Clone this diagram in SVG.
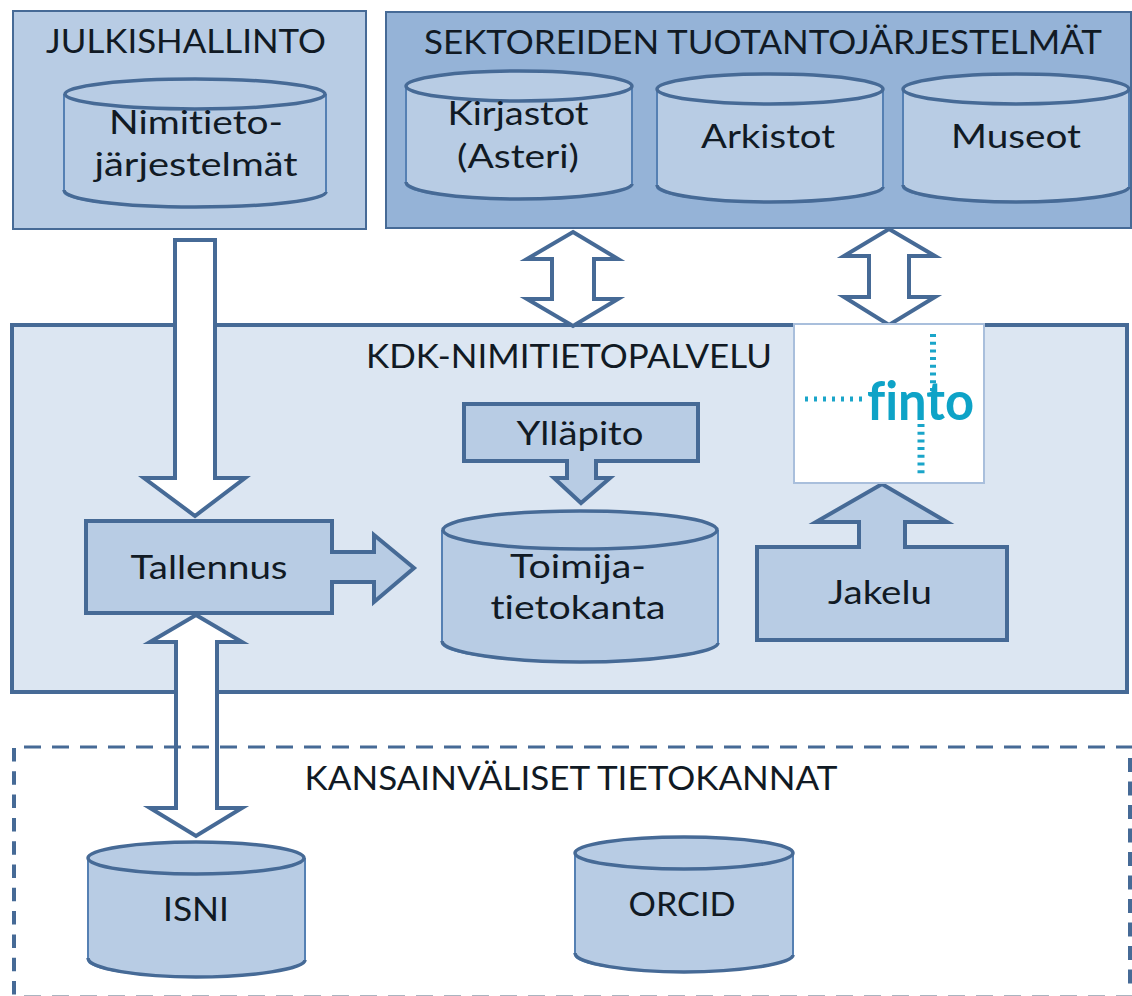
<svg xmlns="http://www.w3.org/2000/svg" width="1132" height="996" viewBox="0 0 1132 996">
<style>
.t{font-family:Lato,"Open Sans","Liberation Sans",sans-serif;font-size:33px;fill:#111a24;text-anchor:middle;font-variant-ligatures:none}
.o{stroke:#466a96;stroke-width:4;fill:#b8cce4;stroke-linejoin:miter;stroke-miterlimit:6}
.w{stroke:#466a96;stroke-width:4;fill:#fff;stroke-linejoin:miter;stroke-miterlimit:6}
.c{stroke:#5580b3;stroke-width:2;fill:#b8cce4}
.s{stroke:#466a96;stroke-width:3.5;fill:none}
.e{stroke:#466a96;stroke-width:3.5;fill:#b8cce4}
.d{stroke:#466a96;fill:none}
.l{stroke:#1aa5c9;fill:none}
</style>
<rect width="1132" height="996" fill="#fff"/>
<g id="kdk"><rect x="12" y="325" width="1115" height="367" fill="#dce6f2" stroke="#466a96" stroke-width="4"/>
<text class="t" x="569" y="368" textLength="406" lengthAdjust="spacingAndGlyphs">KDK-NIMITIETOPALVELU</text></g>
<g id="julkishallinto"><rect x="13" y="11" width="353" height="218" fill="#b8cce4" stroke="#466a96" stroke-width="2"/>
<text class="t" x="186" y="53" textLength="280" lengthAdjust="spacingAndGlyphs">JULKISHALLINTO</text>
<path class="c" d="M64 94V192C64 200 122 207 195 207S326 200 326 192V94"/><path class="s" d="M64 190C64 200 122 207 195 207S326 200 326 192"/><ellipse class="e" cx="195" cy="94" rx="130" ry="15"/>
<text class="t" x="196" y="134" textLength="174" lengthAdjust="spacingAndGlyphs">Nimitieto-</text><text class="t" x="196" y="176" textLength="203" lengthAdjust="spacingAndGlyphs">järjestelmät</text></g>
<g id="sektorit"><rect x="386" y="12" width="745" height="216" fill="#95b3d7" stroke="#466a96" stroke-width="2"/>
<text class="t" x="763" y="54" textLength="678" lengthAdjust="spacingAndGlyphs">SEKTOREIDEN TUOTANTOJÄRJESTELMÄT</text></g>
<g id="kirjastot"><path class="c" d="M406 86V184C406 192 460 199 519 199S632 192 632 184V86"/><path class="s" d="M406 182C406 192 460 199 519 199S632 192 632 184"/><ellipse class="e" cx="519" cy="86" rx="113" ry="15"/>
<text class="t" x="518" y="125" textLength="141" lengthAdjust="spacingAndGlyphs">Kirjastot</text><text class="t" x="518" y="168" textLength="122" lengthAdjust="spacingAndGlyphs">(Asteri)</text></g>
<g id="arkistot"><path class="c" d="M657 89V187C657 195 712 202 770 202S883 195 883 187V89"/><path class="s" d="M657 185C657 195 712 202 770 202S883 195 883 187"/><ellipse class="e" cx="770" cy="89" rx="113" ry="15"/>
<text class="t" x="768" y="148" textLength="134" lengthAdjust="spacingAndGlyphs">Arkistot</text></g>
<g id="museot"><path class="c" d="M903 89V187C903 195 958 202 1016 202S1129 195 1129 187V89"/><path class="s" d="M903 185C903 195 958 202 1016 202S1129 195 1129 187"/><ellipse class="e" cx="1016" cy="89" rx="113" ry="15"/>
<text class="t" x="1016" y="148" textLength="130" lengthAdjust="spacingAndGlyphs">Museot</text></g>
<g id="connectors">
<path class="w" d="M175 240H215V478H245L195 516L144 478H175Z"/>
<path class="w" d="M573 232L618 259H594V299H618L573 326L527 299H552V259H527Z"/>
<path class="w" d="M889 229L935 256H909V297H935L889 325L844 297H869V256H844Z"/>
<path class="w" d="M196 615L242 642H217V808H242L196 836L150 808H176V642H150Z"/>
</g>
<g id="yllapito"><path class="o" d="M464 404H698V461H596V478H610L581 503L554 478H567V461H464Z"/>
<text class="t" x="580" y="445" textLength="127" lengthAdjust="spacingAndGlyphs">Ylläpito</text></g>
<g id="tallennus"><path class="o" d="M86 521H332V552H374V535L414 568L374 602V582H332V613H86Z"/>
<text class="t" x="209" y="579" textLength="157" lengthAdjust="spacingAndGlyphs">Tallennus</text></g>
<g id="toimija"><path class="c" d="M442 530V643C442 653 510 662 580 662S718 653 718 643V530"/><path class="s" d="M442 641C442 653 510 662 580 662S718 653 718 643"/><ellipse class="e" cx="580" cy="530" rx="137" ry="19"/>
<text class="t" x="578" y="578" textLength="136" lengthAdjust="spacingAndGlyphs">Toimija-</text><text class="t" x="578" y="619" textLength="175" lengthAdjust="spacingAndGlyphs">tietokanta</text></g>
<g id="jakelu"><path class="o" d="M757 547H859V522H816L882 484L947 522H905V547H1007V640H757Z"/>
<text class="t" x="880" y="604" textLength="104" lengthAdjust="spacingAndGlyphs">Jakelu</text></g>
<g id="finto"><rect x="794" y="324" width="190" height="159" fill="#fff" stroke="#a9bfdc" stroke-width="2"/>
<path class="l" d="M805 399H868" stroke-width="5" stroke-dasharray="3 6"/>
<path class="l" d="M933 334V396" stroke-width="6" stroke-dasharray="3 4.7"/>
<path class="l" d="M921 424V475" stroke-width="7" stroke-dasharray="3 4.7"/>
<text x="867" y="420" font-family="Lato,'Open Sans',sans-serif" font-size="54" font-weight="700" fill="#0ea3c7" textLength="107" lengthAdjust="spacingAndGlyphs" style="font-variant-ligatures:none">finto</text></g>
<g id="kansainvaliset">
<path class="d" d="M24 747H1132" stroke-width="3" stroke-dasharray="17 11"/>
<path class="d" d="M14 748V996" stroke-width="4" stroke-dasharray="13.5 9.8"/>
<path class="d" d="M1130 758V986" stroke-width="4" stroke-dasharray="14 9.5"/>
<path d="M24 995.5H1132" stroke="#aab4c0" stroke-width="1" stroke-dasharray="17 11" fill="none"/>
<text class="t" x="571" y="790" textLength="533" lengthAdjust="spacingAndGlyphs">KANSAINVÄLISET TIETOKANNAT</text></g>
<g id="isni"><path class="c" d="M88 858V960C88 969 140 977 196 977S305 969 305 960V858"/><path class="s" d="M88 958C88 969 140 977 196 977S305 969 305 960"/><ellipse class="e" cx="196" cy="858" rx="108" ry="16"/>
<text class="t" x="196" y="921" textLength="66" lengthAdjust="spacingAndGlyphs">ISNI</text></g>
<g id="orcid"><path class="c" d="M575 853V955C575 964 630 972 684 972S793 964 793 955V853"/><path class="s" d="M575 953C575 964 630 972 684 972S793 964 793 955"/><ellipse class="e" cx="684" cy="853" rx="109" ry="16"/>
<text class="t" x="682" y="916" textLength="107" lengthAdjust="spacingAndGlyphs">ORCID</text></g>
</svg>
